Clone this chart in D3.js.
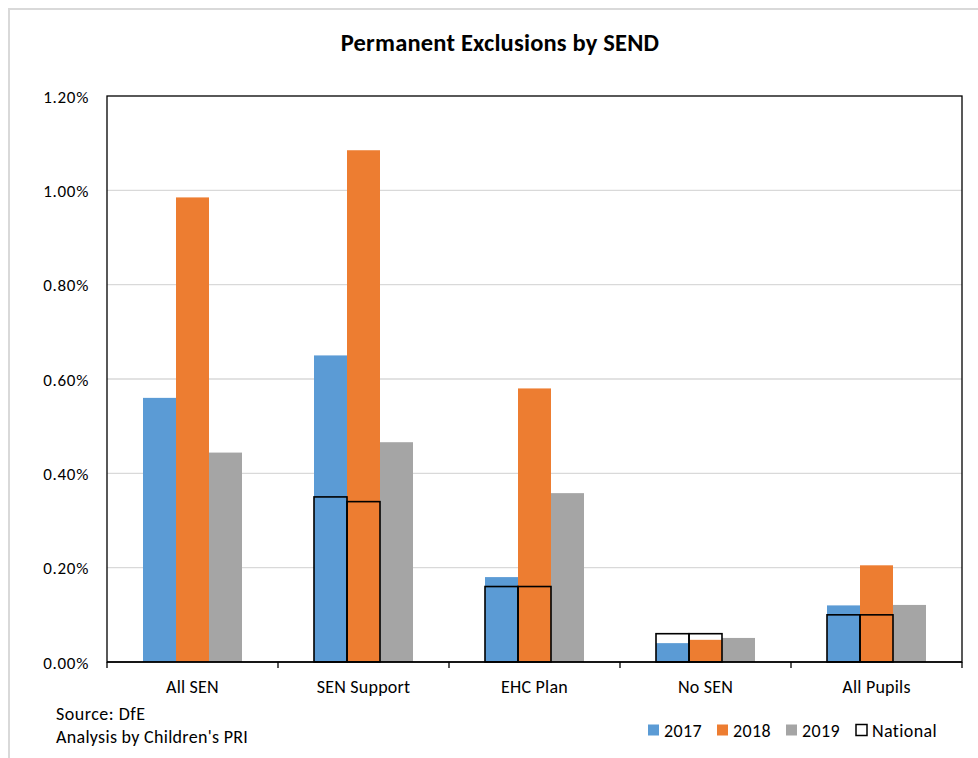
<!DOCTYPE html>
<html>
<head>
<meta charset="utf-8">
<script src="https://cdn.jsdelivr.net/npm/d3@7"></script>
<style>
  html, body { margin: 0; padding: 0; background: #fff; }
  svg { display: block; }
  text { font-family: Carlito, "Liberation Sans Narrow", "Open Sans", sans-serif; fill: #000; }
</style>
</head>
<body>
<svg id="chart" width="978" height="758"></svg>
<script>
// Permanent exclusion rates (% of pupils) by SEN status
const categories = ["All SEN", "SEN Support", "EHC Plan", "No SEN", "All Pupils"];
const years = ["2017", "2018", "2019"];
const rate2017 = [0.56, 0.65, 0.18, 0.04, 0.12];
const rate2018 = [0.985, 1.085, 0.58, 0.047, 0.205];
const rate2019 = [0.444, 0.466, 0.358, 0.051, 0.121];
// National comparison rates, shown against the 2017 and 2018 bars
const national2017 = [null, 0.35, 0.16, 0.06, 0.10];
const national2018 = [null, 0.34, 0.16, 0.06, 0.10];
const yTicks = [0, 0.2, 0.4, 0.6, 0.8, 1.0, 1.2];
const colors = { "2017": "#5b9bd5", "2018": "#ed7d31", "2019": "#a5a5a5" };

const svg = d3.select("#chart");
const plot = { left: 107, right: 962, top: 96, bottom: 662 };

// Outer chart frame (light gray)
svg.append("path")
  .attr("d", "M9,758 L9,9 L978,9")
  .attr("fill", "none").attr("stroke", "#d9d9d9").attr("stroke-width", 2);

const x = d3.scaleBand().domain(categories).range([plot.left, plot.right]).paddingInner(0).paddingOuter(0);
const barW = 33;
const xYear = d3.scaleBand().domain(years).range([0, barW * 3]);
const y = d3.scaleLinear().domain([0, 1.2]).range([plot.bottom, plot.top]);

// Gridlines
svg.append("g").selectAll("line").data(yTicks.filter(t => t > 0 && t < 1.2)).join("line")
  .attr("x1", plot.left).attr("x2", plot.right)
  .attr("y1", d => y(d)).attr("y2", d => y(d))
  .attr("stroke", "#d9d9d9").attr("stroke-width", 1.3);

// Bars
const series = [
  { key: "2017", values: rate2017 },
  { key: "2018", values: rate2018 },
  { key: "2019", values: rate2019 }
];
const groupOffset = (x.bandwidth() - barW * 3) / 2;
series.forEach(s => {
  svg.append("g").selectAll("rect").data(categories).join("rect")
    .attr("x", (c) => x(c) + groupOffset + xYear(s.key))
    .attr("width", xYear.bandwidth())
    .attr("y", (c, i) => y(s.values[i]))
    .attr("height", (c, i) => plot.bottom - y(s.values[i]))
    .attr("fill", colors[s.key]);
});

// National outlines
[{ key: "2017", values: national2017 }, { key: "2018", values: national2018 }].forEach(s => {
  svg.append("g").selectAll("rect")
    .data(categories.map((c, i) => ({ c, v: s.values[i] })).filter(d => d.v != null))
    .join("rect")
    .attr("x", d => x(d.c) + groupOffset + xYear(s.key))
    .attr("width", xYear.bandwidth())
    .attr("y", d => y(d.v))
    .attr("height", d => plot.bottom - y(d.v))
    .attr("fill", "none").attr("stroke", "#000").attr("stroke-width", 1.6);
});

// Plot area border
svg.append("rect")
  .attr("x", plot.left).attr("y", plot.top)
  .attr("width", plot.right - plot.left).attr("height", plot.bottom - plot.top)
  .attr("fill", "none").attr("stroke", "#000").attr("stroke-width", 1.3);

// Y axis labels
const yAxis = d3.axisLeft(y).tickValues(yTicks).tickSize(0).tickPadding(18)
  .tickFormat(d => d.toFixed(2) + "%");
const yg = svg.append("g").attr("transform", `translate(${plot.left},0)`).call(yAxis);
yg.select(".domain").remove();
yg.selectAll("text").attr("font-size", 17).attr("letter-spacing", 0.7)
  .attr("dy", "0.36em").style("font-family", null);

// X axis with ticks at category boundaries
const xg = svg.append("g").attr("transform", `translate(0,${plot.bottom})`);
xg.append("line").attr("x1", plot.left).attr("x2", plot.right).attr("stroke", "#000").attr("stroke-width", 1.5);
xg.selectAll("line.tick").data(categories.map(c => x(c)).concat([plot.right])).join("line")
  .attr("class", "tick")
  .attr("x1", d => d).attr("x2", d => d).attr("y1", 0).attr("y2", 6)
  .attr("stroke", "#000").attr("stroke-width", 1.3);
xg.selectAll("text").data(categories).join("text")
  .attr("x", c => x(c) + x.bandwidth() / 2).attr("y", 31)
  .attr("text-anchor", "middle").attr("font-size", 18).attr("letter-spacing", 0.2).text(c => c);

// Title
svg.append("text").attr("x", 500).attr("y", 51).attr("text-anchor", "middle")
  .attr("font-size", 24.5).attr("font-weight", "bold").attr("letter-spacing", 0.2)
  .text("Permanent Exclusions by SEND");

// Source notes
svg.append("text").attr("x", 56).attr("y", 720).attr("font-size", 18).attr("letter-spacing", 0.5).text("Source: DfE");
svg.append("text").attr("x", 56).attr("y", 743).attr("font-size", 18).attr("letter-spacing", 0.3).text("Analysis by Children's PRI");

// Legend
const legendItems = [
  { label: "2017", fill: colors["2017"], x: 648 },
  { label: "2018", fill: colors["2018"], x: 717 },
  { label: "2019", fill: colors["2019"], x: 786 },
  { label: "National", fill: "none", x: 856 }
];
const lg = svg.append("g");
legendItems.forEach(d => {
  lg.append("rect").attr("x", d.x).attr("y", 724.5).attr("width", 11).attr("height", 11)
    .attr("fill", d.fill === "none" ? "#fff" : d.fill)
    .attr("stroke", d.fill === "none" ? "#000" : "none").attr("stroke-width", 1.5);
  lg.append("text").attr("x", d.x + 16).attr("y", 737).attr("font-size", 18)
    .attr("letter-spacing", 0.4).text(d.label);
});
</script>
</body>
</html>
